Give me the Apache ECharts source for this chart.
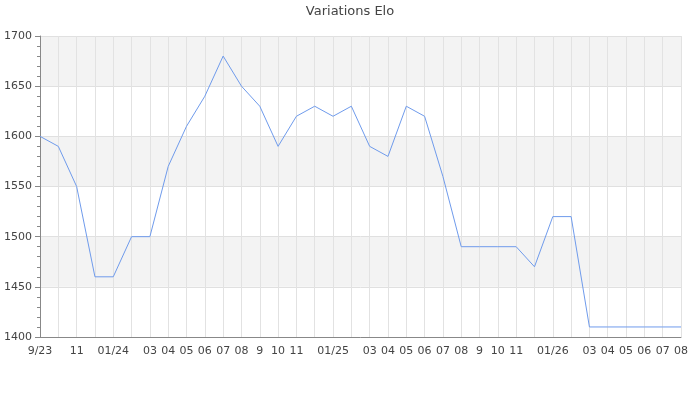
<!DOCTYPE html>
<html>
<head>
<meta charset="utf-8">
<script src="https://cdn.jsdelivr.net/npm/echarts@6/dist/echarts.min.js"></script>
<style>html,body{margin:0;padding:0;background:#fff}#c{width:700px;height:400px}</style>
</head>
<body>
<div id="c"></div>
<script>
var months = ['2023-09','2023-10','2023-11','2023-12','2024-01','2024-02','2024-03','2024-04','2024-05','2024-06','2024-07','2024-08','2024-09','2024-10','2024-11','2024-12','2025-01','2025-02','2025-03','2025-04','2025-05','2025-06','2025-07','2025-08','2025-09','2025-10','2025-11','2025-12','2026-01','2026-02','2026-03','2026-04','2026-05','2026-06','2026-07','2026-08'];
var tickLabels = ['9/23','','11','','01/24','','03','04','05','06','07','08','9','10','11','','01/25','','03','04','05','06','07','08','9','10','11','','01/26','','03','04','05','06','07','08'];
var elo = [1600,1590,1550,1460,1460,1500,1500,1570,1610,1640,1680,1650,1630,1590,1620,1630,1620,1630,1590,1580,1630,1620,1560,1490,1490,1490,1490,1470,1520,1520,1410,1410,1410,1410,1410,1410];
var yTicks = {min:1400, max:1700, interval:50};

var chart = echarts.init(document.getElementById('c'), null, {renderer:'canvas'});
chart.setOption({
  animation:false,
  title:{text:'Variations Elo', left:'center', top:0, textStyle:{fontFamily:'DejaVu Sans', fontSize:13, fontWeight:'normal', color:'#444'}},
  grid:{left:40, right:19, top:36, bottom:63, containLabel:false, outerBoundsMode:'none'},
  xAxis:{
    type:'category', data:months, boundaryGap:false,
    axisLine:{lineStyle:{color:'#888'}},
    axisTick:{show:false},
    axisLabel:{interval:0, margin:9, fontFamily:'DejaVu Sans', fontSize:11, color:'#444', formatter:function(v,i){return tickLabels[i];}},
    splitLine:{show:true, lineStyle:{color:'#e2e2e2'}}
  },
  yAxis:{
    type:'value', min:yTicks.min, max:yTicks.max, interval:yTicks.interval,
    axisLine:{show:true, lineStyle:{color:'#888'}},
    axisTick:{show:true, length:5, lineStyle:{color:'#888'}},
    minorTick:{show:true, splitNumber:5, length:3, lineStyle:{color:'#888'}},
    axisLabel:{margin:8, fontFamily:'DejaVu Sans', fontSize:11, color:'#444', formatter:function(v){return String(v);}},
    splitLine:{show:true, lineStyle:{color:'#e0e0e0'}},
    splitArea:{show:true, areaStyle:{color:['#ffffff','#f3f3f3']}}
  },
  series:[{
    type:'line', data:elo, showSymbol:false, symbol:'none',
    lineStyle:{color:'#6f9bec', width:1}
  }]
});
</script>
</body>
</html>
